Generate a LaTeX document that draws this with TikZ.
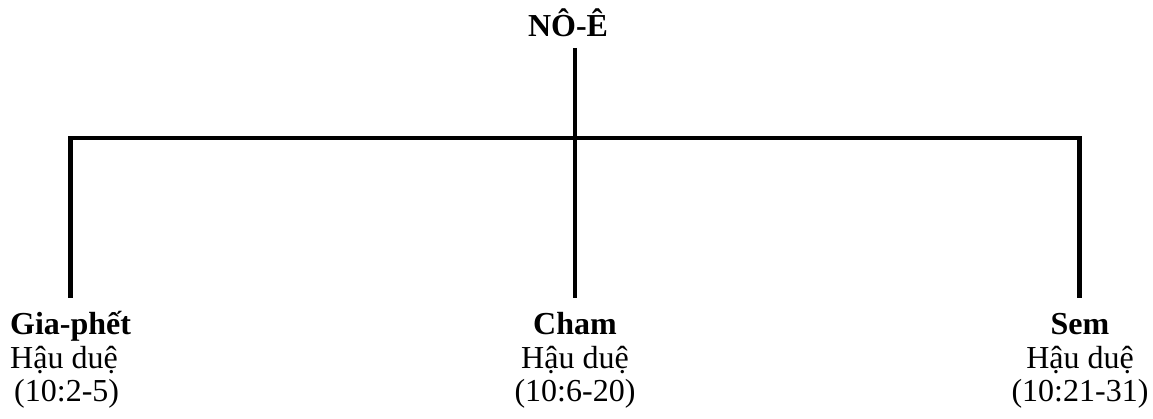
\documentclass[tikz,border=0pt]{standalone}
\usepackage{fontspec}
\setmainfont{Liberation Serif}
\begin{document}
\begin{tikzpicture}[x=1pt,y=1pt,
  lbl/.style={inner sep=0pt,font=\fontsize{32}{33.5}\selectfont},
  conn/.style={line width=4.5pt,line join=miter,line cap=butt}]
\useasboundingbox (0,0) rectangle (1153,419);
\node[lbl,anchor=base] (noe) at (568,382) {\textbf{NÔ-Ê}};
\node[lbl,anchor=base west,align=left] (gia) at (10,17) {\textbf{Gia-phết}\\Hậu duệ\\\hspace*{4pt}(10:2-5)};
\node[lbl,anchor=base,align=center] (cham) at (575,17) {\textbf{Cham}\\Hậu duệ\\(10:6-20)};
\node[lbl,anchor=base,align=center] (sem) at (1080,17) {\textbf{Sem}\\Hậu duệ\\(10:21-31)};
\coordinate (ntop) at (575,371);
\coordinate (gend) at (70.5,121);
\coordinate (cend) at (575,121);
\coordinate (send) at (1079.5,121);
\coordinate (bus) at (575,281);
\draw[conn] (ntop) -- (cend);
\draw[conn] (gend) |- (bus) -| (send);
\end{tikzpicture}
\end{document}
